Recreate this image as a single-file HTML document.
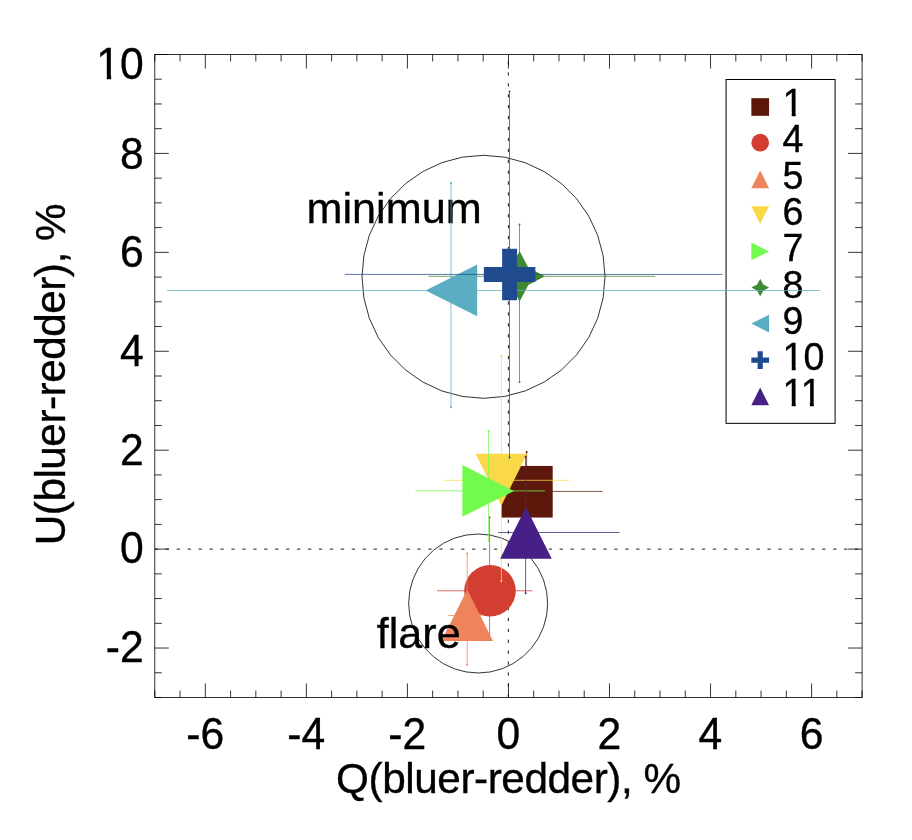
<!DOCTYPE html>
<html lang="en"><head><meta charset="utf-8"><title>Q-U plot</title>
<style>html,body{margin:0;padding:0;background:#fff}svg{display:block}text{font-family:"Liberation Sans",Arial,Helvetica,sans-serif;fill:#000}</style></head><body>
<svg width="912" height="840" viewBox="0 0 912 840">
<rect x="0" y="0" width="912" height="840" fill="#ffffff"/>
<g stroke="#000" stroke-width="0.8" fill="none" stroke-linecap="butt">
<rect x="154.8" y="54.5" width="707.30" height="643.00"/>
<path d="M154.80 697.5v-7M154.80 54.5v7"/>
<path d="M180.06 697.5v-7M180.06 54.5v7"/>
<path d="M205.32 697.5v-14M205.32 54.5v14"/>
<path d="M230.58 697.5v-7M230.58 54.5v7"/>
<path d="M255.84 697.5v-7M255.84 54.5v7"/>
<path d="M281.10 697.5v-7M281.10 54.5v7"/>
<path d="M306.36 697.5v-14M306.36 54.5v14"/>
<path d="M331.62 697.5v-7M331.62 54.5v7"/>
<path d="M356.89 697.5v-7M356.89 54.5v7"/>
<path d="M382.15 697.5v-7M382.15 54.5v7"/>
<path d="M407.41 697.5v-14M407.41 54.5v14"/>
<path d="M432.67 697.5v-7M432.67 54.5v7"/>
<path d="M457.93 697.5v-7M457.93 54.5v7"/>
<path d="M483.19 697.5v-7M483.19 54.5v7"/>
<path d="M508.45 697.5v-14M508.45 54.5v14"/>
<path d="M533.71 697.5v-7M533.71 54.5v7"/>
<path d="M558.97 697.5v-7M558.97 54.5v7"/>
<path d="M584.23 697.5v-7M584.23 54.5v7"/>
<path d="M609.49 697.5v-14M609.49 54.5v14"/>
<path d="M634.75 697.5v-7M634.75 54.5v7"/>
<path d="M660.01 697.5v-7M660.01 54.5v7"/>
<path d="M685.28 697.5v-7M685.28 54.5v7"/>
<path d="M710.54 697.5v-14M710.54 54.5v14"/>
<path d="M735.80 697.5v-7M735.80 54.5v7"/>
<path d="M761.06 697.5v-7M761.06 54.5v7"/>
<path d="M786.32 697.5v-7M786.32 54.5v7"/>
<path d="M811.58 697.5v-14M811.58 54.5v14"/>
<path d="M836.84 697.5v-7M836.84 54.5v7"/>
<path d="M862.10 697.5v-7M862.10 54.5v7"/>
<path d="M154.8 697.50h7M862.1 697.50h-7"/>
<path d="M154.8 672.77h7M862.1 672.77h-7"/>
<path d="M154.8 648.04h14M862.1 648.04h-14"/>
<path d="M154.8 623.31h7M862.1 623.31h-7"/>
<path d="M154.8 598.58h7M862.1 598.58h-7"/>
<path d="M154.8 573.85h7M862.1 573.85h-7"/>
<path d="M154.8 549.12h14M862.1 549.12h-14"/>
<path d="M154.8 524.38h7M862.1 524.38h-7"/>
<path d="M154.8 499.65h7M862.1 499.65h-7"/>
<path d="M154.8 474.92h7M862.1 474.92h-7"/>
<path d="M154.8 450.19h14M862.1 450.19h-14"/>
<path d="M154.8 425.46h7M862.1 425.46h-7"/>
<path d="M154.8 400.73h7M862.1 400.73h-7"/>
<path d="M154.8 376.00h7M862.1 376.00h-7"/>
<path d="M154.8 351.27h14M862.1 351.27h-14"/>
<path d="M154.8 326.54h7M862.1 326.54h-7"/>
<path d="M154.8 301.81h7M862.1 301.81h-7"/>
<path d="M154.8 277.08h7M862.1 277.08h-7"/>
<path d="M154.8 252.35h14M862.1 252.35h-14"/>
<path d="M154.8 227.62h7M862.1 227.62h-7"/>
<path d="M154.8 202.88h7M862.1 202.88h-7"/>
<path d="M154.8 178.15h7M862.1 178.15h-7"/>
<path d="M154.8 153.42h14M862.1 153.42h-14"/>
<path d="M154.8 128.69h7M862.1 128.69h-7"/>
<path d="M154.8 103.96h7M862.1 103.96h-7"/>
<path d="M154.8 79.23h7M862.1 79.23h-7"/>
<path d="M154.8 54.50h14M862.1 54.50h-14"/>
</g>
<g stroke="#000" stroke-width="0.9" fill="none"><path stroke-dasharray="3.3 7.641" d="M154.8 549.12H862.1"/><path stroke-dasharray="3.3 7.61" d="M508.35 697.5V54.5"/></g>
<text transform="translate(205.22 749.00) scale(1 1.022)" font-size="42.67" text-anchor="middle" stroke="#000" stroke-width="0.35">-6</text>
<text transform="translate(306.26 749.00) scale(1 1.022)" font-size="42.67" text-anchor="middle" stroke="#000" stroke-width="0.35">-4</text>
<text transform="translate(407.31 749.00) scale(1 1.022)" font-size="42.67" text-anchor="middle" stroke="#000" stroke-width="0.35">-2</text>
<text transform="translate(508.35 749.00) scale(1 1.022)" font-size="42.67" text-anchor="middle" stroke="#000" stroke-width="0.35">0</text>
<text transform="translate(609.39 749.00) scale(1 1.022)" font-size="42.67" text-anchor="middle" stroke="#000" stroke-width="0.35">2</text>
<text transform="translate(710.44 749.00) scale(1 1.022)" font-size="42.67" text-anchor="middle" stroke="#000" stroke-width="0.35">4</text>
<text transform="translate(811.48 749.00) scale(1 1.022)" font-size="42.67" text-anchor="middle" stroke="#000" stroke-width="0.35">6</text>
<clipPath id="c1"><rect x="-300.00" y="-200.00" width="600.00" height="196.01"/><rect x="-37.03" y="-4.19" width="4.37" height="6.19"/><rect x="-23.73" y="-4.19" width="23.73" height="33.19"/></clipPath><text transform="translate(143.80 78.90) scale(1 1.022)" font-size="42.67" text-anchor="end" clip-path="url(#c1)" stroke="#000" stroke-width="0.35">10</text>
<text transform="translate(143.80 168.80) scale(1 1.022)" font-size="42.67" text-anchor="end" stroke="#000" stroke-width="0.35">8</text>
<text transform="translate(143.80 267.40) scale(1 1.022)" font-size="42.67" text-anchor="end" stroke="#000" stroke-width="0.35">6</text>
<text transform="translate(143.80 365.80) scale(1 1.022)" font-size="42.67" text-anchor="end" stroke="#000" stroke-width="0.35">4</text>
<text transform="translate(143.80 464.60) scale(1 1.022)" font-size="42.67" text-anchor="end" stroke="#000" stroke-width="0.35">2</text>
<text transform="translate(143.80 563.30) scale(1 1.022)" font-size="42.67" text-anchor="end" stroke="#000" stroke-width="0.35">0</text>
<text transform="translate(143.80 661.90) scale(1 1.022)" font-size="42.67" text-anchor="end" stroke="#000" stroke-width="0.35">-2</text>
<text transform="translate(508.45 793.30)" font-size="42.3" text-anchor="middle" letter-spacing="-0.44" stroke="#000" stroke-width="0.35">Q(bluer-redder), %</text>
<text transform="translate(65.30 374.60) rotate(-90)" font-size="42.3" text-anchor="middle" letter-spacing="-0.5" stroke="#000" stroke-width="0.35">U(bluer-redder), %</text>
<rect x="726.05" y="79.5" width="109.05" height="343.85" fill="#fff" stroke="#000" stroke-width="1"/>
<g font-size="37.33">
<rect x="751.35" y="98.15" width="17.70" height="17.70" fill="#5c190b"/>
<clipPath id="c2"><rect x="-300.00" y="-200.00" width="600.00" height="196.39"/><rect x="9.16" y="-3.81" width="3.92" height="5.81"/></clipPath><text transform="translate(782.60 115.95) scale(1 1.02)" font-size="37.6" clip-path="url(#c2)" stroke="#000" stroke-width="0.35">1</text>
<circle cx="760.20" cy="142.70" r="8.85" fill="#d23e31"/>
<text transform="translate(782.60 151.70) scale(1 1.02)" font-size="37.6" stroke="#000" stroke-width="0.35">4</text>
<path d="M760.20 170.45L769.05 188.15H751.35Z" fill="#ef835b"/>
<text transform="translate(782.60 188.70) scale(1 1.02)" font-size="37.6" stroke="#000" stroke-width="0.35">5</text>
<path d="M760.20 223.95L769.05 206.25H751.35Z" fill="#f9d948"/>
<text transform="translate(782.60 225.00) scale(1 1.02)" font-size="37.6" stroke="#000" stroke-width="0.35">6</text>
<path d="M769.05 251.40L751.35 242.55V260.25Z" fill="#72fa4c"/>
<text transform="translate(782.60 260.90) scale(1 1.02)" font-size="37.6" stroke="#000" stroke-width="0.35">7</text>
<path d="M760.20 278.75L763.25 284.55L769.05 287.60L763.25 290.65L760.20 296.45L757.15 290.65L751.35 287.60L757.15 284.55Z" fill="#3f8932"/>
<text transform="translate(782.60 297.70) scale(1 1.02)" font-size="37.6" stroke="#000" stroke-width="0.35">8</text>
<path d="M751.35 323.60L769.05 314.75V332.45Z" fill="#5badc2"/>
<text transform="translate(782.60 333.90) scale(1 1.02)" font-size="37.6" stroke="#000" stroke-width="0.35">9</text>
<path d="M757.63 351.25H762.77V357.53H769.05V362.67H762.77V368.95H757.63V362.67H751.35V357.53H757.63Z" fill="#1f4a8e"/>
<clipPath id="c3"><rect x="-300.00" y="-200.00" width="600.00" height="196.39"/><rect x="9.16" y="-3.81" width="3.92" height="5.81"/><rect x="20.91" y="-3.81" width="20.91" height="32.81"/></clipPath><text transform="translate(782.60 369.60) scale(1 1.02)" font-size="37.6" clip-path="url(#c3)" stroke="#000" stroke-width="0.35">10</text>
<path d="M760.20 387.55L769.05 405.25H751.35Z" fill="#462086"/>
<clipPath id="c4"><rect x="-300.00" y="-200.00" width="600.00" height="196.39"/><rect x="9.16" y="-3.81" width="3.92" height="5.81"/><rect x="27.28" y="-3.81" width="3.92" height="5.81"/></clipPath><text transform="translate(782.60 405.60) scale(1 1.02)" font-size="37.6" clip-path="url(#c4)" stroke="#000" stroke-width="0.35">11</text>
</g>
<text transform="translate(306.50 222.50)" font-size="43.2" stroke="#000" stroke-width="0.35">minimum</text>
<polygon points="605.00,276.80 603.15,297.90 597.67,318.36 588.72,337.55 576.57,354.90 561.60,369.87 544.25,382.02 525.06,390.97 504.60,396.45 483.50,398.30 462.40,396.45 441.94,390.97 422.75,382.02 405.40,369.87 390.43,354.90 378.28,337.55 369.33,318.36 363.85,297.90 362.00,276.80 363.85,255.70 369.33,235.24 378.28,216.05 390.43,198.70 405.40,183.73 422.75,171.58 441.94,162.63 462.40,157.15 483.50,155.30 504.60,157.15 525.06,162.63 544.25,171.58 561.60,183.73 576.57,198.70 588.72,216.05 597.67,235.24 603.15,255.70" fill="none" stroke="#000" stroke-width="0.8" stroke-linejoin="round"/>
<polygon points="547.65,603.50 546.59,615.57 543.46,627.27 538.34,638.25 531.39,648.17 522.82,656.74 512.90,663.69 501.92,668.81 490.22,671.94 478.15,673.00 466.08,671.94 454.38,668.81 443.40,663.69 433.48,656.74 424.91,648.17 417.96,638.25 412.84,627.27 409.71,615.57 408.65,603.50 409.71,591.43 412.84,579.73 417.96,568.75 424.91,558.83 433.48,550.26 443.40,543.31 454.38,538.19 466.08,535.06 478.15,534.00 490.22,535.06 501.92,538.19 512.90,543.31 522.82,550.26 531.39,558.83 538.34,568.75 543.46,579.73 546.59,591.43" fill="none" stroke="#000" stroke-width="0.8" stroke-linejoin="round"/>
<path d="M501 491.4H602.6M526.6 452.0V520" stroke="#5c190b" stroke-width="0.75" fill="none"/>
<circle cx="526.6" cy="452.0" r="1" fill="#5c190b"/><circle cx="526.6" cy="520" r="1" fill="#5c190b"/>
<rect x="501.10" y="465.95" width="51.60" height="51.60" fill="#5c190b"/>
<path d="M437.0 590.8H532.6M489.6 517.3V638" stroke="#d23e31" stroke-width="0.75" fill="none"/>
<circle cx="489.6" cy="517.3" r="1" fill="#d23e31"/><circle cx="489.6" cy="638" r="1" fill="#d23e31"/>
<circle cx="490.00" cy="590.75" r="25.80" fill="#d23e31"/>
<path d="M448.2 615.5H482M467.2 553.4V664.7" stroke="#ef835b" stroke-width="0.75" fill="none"/>
<circle cx="467.2" cy="553.4" r="1" fill="#ef835b"/><circle cx="467.2" cy="664.7" r="1" fill="#ef835b"/>
<path d="M467.20 589.50L493.00 641.10H441.40Z" fill="#ef835b"/>
<path d="M443.9 480.3H569.3M501.4 355.7V581.3" stroke="#f9d948" stroke-width="0.75" fill="none"/>
<circle cx="501.4" cy="355.7" r="1" fill="#f9d948"/><circle cx="501.4" cy="581.3" r="1" fill="#f9d948"/>
<path d="M501.40 505.40L527.20 453.80H475.60Z" fill="#f9d948"/>
<path d="M415.3 490.9H544.9M488.6 431.0V541.0" stroke="#72fa4c" stroke-width="0.75" fill="none"/>
<circle cx="488.6" cy="431.0" r="1" fill="#72fa4c"/><circle cx="488.6" cy="541.0" r="1" fill="#72fa4c"/>
<path d="M514.00 490.90L462.40 465.10V516.70Z" fill="#72fa4c"/>
<path d="M428.4 276.3H655.2M519.5 224.5V382.0" stroke="#3f8932" stroke-width="0.75" fill="none"/>
<circle cx="519.5" cy="224.5" r="1" fill="#3f8932"/><circle cx="519.5" cy="382.0" r="1" fill="#3f8932"/>
<path d="M519.60 251.00L528.33 267.57L544.90 276.30L528.33 285.03L519.60 301.60L510.87 285.03L494.30 276.30L510.87 267.57Z" fill="#3f8932"/>
<path d="M167.1 290.5H819.8M451.0 182.9V407.3" stroke="#5badc2" stroke-width="0.75" fill="none"/>
<circle cx="451.0" cy="182.9" r="1" fill="#5badc2"/><circle cx="451.0" cy="407.3" r="1" fill="#5badc2"/>
<path d="M425.60 290.40L477.20 264.60V316.20Z" fill="#5badc2"/>
<path d="M344.7 274.4H722.5M509.5 91.4V457.5" stroke="#1f4a8e" stroke-width="0.75" fill="none"/>
<circle cx="509.5" cy="91.4" r="1" fill="#1f4a8e"/><circle cx="509.5" cy="457.5" r="1" fill="#1f4a8e"/>
<path d="M502.13 248.75H517.07V267.03H535.35V281.97H517.07V300.25H502.13V281.97H483.85V267.03H502.13Z" fill="#1f4a8e"/>
<path d="M498.2 532.5H619.7M525.6 456.7V593.3" stroke="#462086" stroke-width="0.75" fill="none"/>
<circle cx="525.6" cy="456.7" r="1" fill="#462086"/><circle cx="525.6" cy="593.3" r="1" fill="#462086"/>
<path d="M525.95 507.20L551.75 558.80H500.15Z" fill="#462086"/>
<text transform="translate(376.80 648.00)" font-size="43.1" stroke="#000" stroke-width="0.35">flare</text>
</svg></body></html>
